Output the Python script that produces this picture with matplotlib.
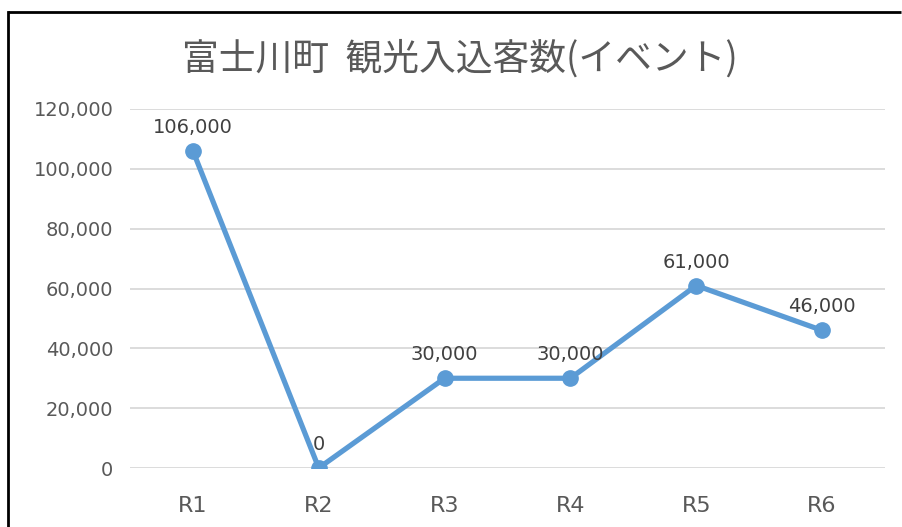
import matplotlib.pyplot as plt
from matplotlib.lines import Line2D
from matplotlib.ticker import FuncFormatter

plt.rcParams['font.family'] = ['Noto Sans CJK JP', 'DejaVu Sans']
num_font = ['DejaVu Sans', 'Noto Sans CJK JP']

# Data
years = ['R1', 'R2', 'R3', 'R4', 'R5', 'R6']
visitors = [106000, 0, 30000, 30000, 61000, 46000]
title = '富士川町  観光入込客数(イベント)'

line_color = '#5B9BD5'

fig = plt.figure(figsize=(9.02, 5.27), dpi=100)
ax = fig.add_axes([130 / 902, 1 - 468 / 527, 755 / 902, 359 / 527])

x = [i + 0.5 for i in range(len(years))]
ax.plot(x, visitors, color=line_color, linewidth=3.75, marker='o',
        markersize=11, solid_capstyle='round', zorder=3)

# data labels above each point
for xi, v in zip(x, visitors):
    ax.annotate(f'{v:,}', (xi, v), xytext=(0, 10), textcoords='offset points',
                ha='center', va='bottom', fontsize=14, color='#404040',
                family=num_font)

ax.set_xlim(0, len(years))
ax.set_ylim(0, 120000)
ax.set_yticks(range(0, 120001, 20000))
ax.yaxis.set_major_formatter(FuncFormatter(lambda v, p: f'{int(v):,}'))
ax.set_xticks(x)
ax.set_xticklabels(years)
for lab in ax.get_xticklabels() + ax.get_yticklabels():
    lab.set_family(num_font)

ax.grid(axis='y', color='#D9D9D9', linewidth=1.3)
ax.set_axisbelow(True)
for s in ax.spines.values():
    s.set_visible(False)
ax.tick_params(axis='both', length=0)
ax.tick_params(axis='y', labelsize=14, labelcolor='#595959', pad=12)
ax.tick_params(axis='x', labelsize=16, labelcolor='#595959', pad=20)

fig.text(460 / 902, 1 - 59 / 527, title, ha='center', va='center',
         fontsize=26.5, color='#595959')

# outer frame (top and left edges visible)
fig.add_artist(Line2D([8 / 902, 8 / 902], [0, 1 - 12 / 527],
                      transform=fig.transFigure, color='black', linewidth=2))
fig.add_artist(Line2D([8 / 902, 0.999], [1 - 12 / 527, 1 - 12 / 527],
                      transform=fig.transFigure, color='black', linewidth=2,
                      solid_capstyle='butt'))

fig.savefig('out.png', dpi=100)
